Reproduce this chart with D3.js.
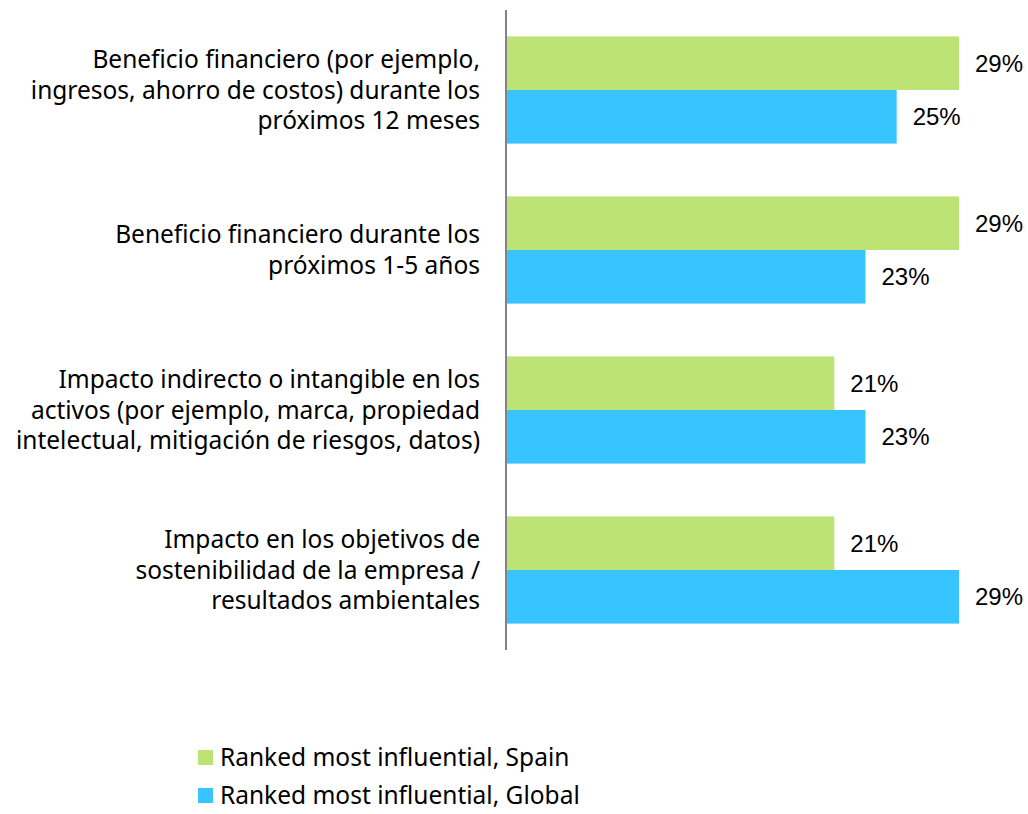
<!DOCTYPE html>
<html><head><meta charset="utf-8">
<script src="https://cdn.jsdelivr.net/npm/d3@7"></script>
<style>body{margin:0;background:#fff}</style>
</head><body>
<svg id="c" width="1028" height="814"></svg>
<script>
const categories = [
  ["Beneficio financiero (por ejemplo,", "ingresos, ahorro de costos) durante los", "próximos 12 meses"],
  ["Beneficio financiero durante los", "próximos 1-5 años"],
  ["Impacto indirecto o intangible en los", "activos (por ejemplo, marca, propiedad", "intelectual, mitigación de riesgos, datos)"],
  ["Impacto en los objetivos de", "sostenibilidad de la empresa /", "resultados ambientales"]
];
const seriesNames = ["Ranked most influential, Spain", "Ranked most influential, Global"];
const spain = [29, 29, 21, 21];
const global = [25, 23, 23, 29];
const colors = ["#BEE375", "#38C4FF"];

const svg = d3.select("#c");
const labelFont = "'Noto Sans', sans-serif";
const x = d3.scaleLinear().domain([0, 29]).range([507, 959]);
const y = d3.scaleBand().domain(d3.range(categories.length)).range([10, 650]).paddingInner(0.33).paddingOuter(0.165);
const y2 = d3.scaleBand().domain([0, 1]).range([0, y.bandwidth()]);
const series = [spain, global];

const g = svg.append("g");
categories.forEach((cat, i) => {
  series.forEach((s, k) => {
    const top = y(i) + y2(k);
    g.append("rect").attr("x", x(0)).attr("y", top).attr("width", x(s[i]) - x(0)).attr("height", y2.bandwidth()).attr("fill", colors[k]);
    g.append("text").attr("x", x(s[i]) + 16).attr("y", top + y2.bandwidth() / 2).attr("dy", "0.35em")
      .attr("font-family", "'Liberation Sans', Arial, sans-serif").attr("font-size", 24).attr("fill", "#000")
      .text(s[i] + "%");
  });
  const cy = y(i) + y.bandwidth() / 2;
  const lh = 30.7;
  const t = svg.append("text").attr("text-anchor", "end").attr("font-family", labelFont).attr("font-size", 24.5).attr("fill", "#000");
  cat.forEach((line, j) => {
    t.append("tspan").attr("x", 480).attr("y", cy + (j - (cat.length - 1) / 2) * lh).attr("dy", "0.35em").text(line);
  });
});

svg.append("line").attr("x1", 506).attr("x2", 506).attr("y1", 10).attr("y2", 650).attr("stroke", "#595959").attr("stroke-width", 1.5);

seriesNames.forEach((n, k) => {
  const ly = 757 + k * 38;
  svg.append("rect").attr("x", 198).attr("y", ly - 7).attr("width", 15).attr("height", 15).attr("fill", colors[k]);
  svg.append("text").attr("x", 220).attr("y", ly).attr("dy", "0.35em").attr("font-family", labelFont).attr("font-size", 24.5).attr("fill", "#000").text(n);
});
</script>
</body></html>
